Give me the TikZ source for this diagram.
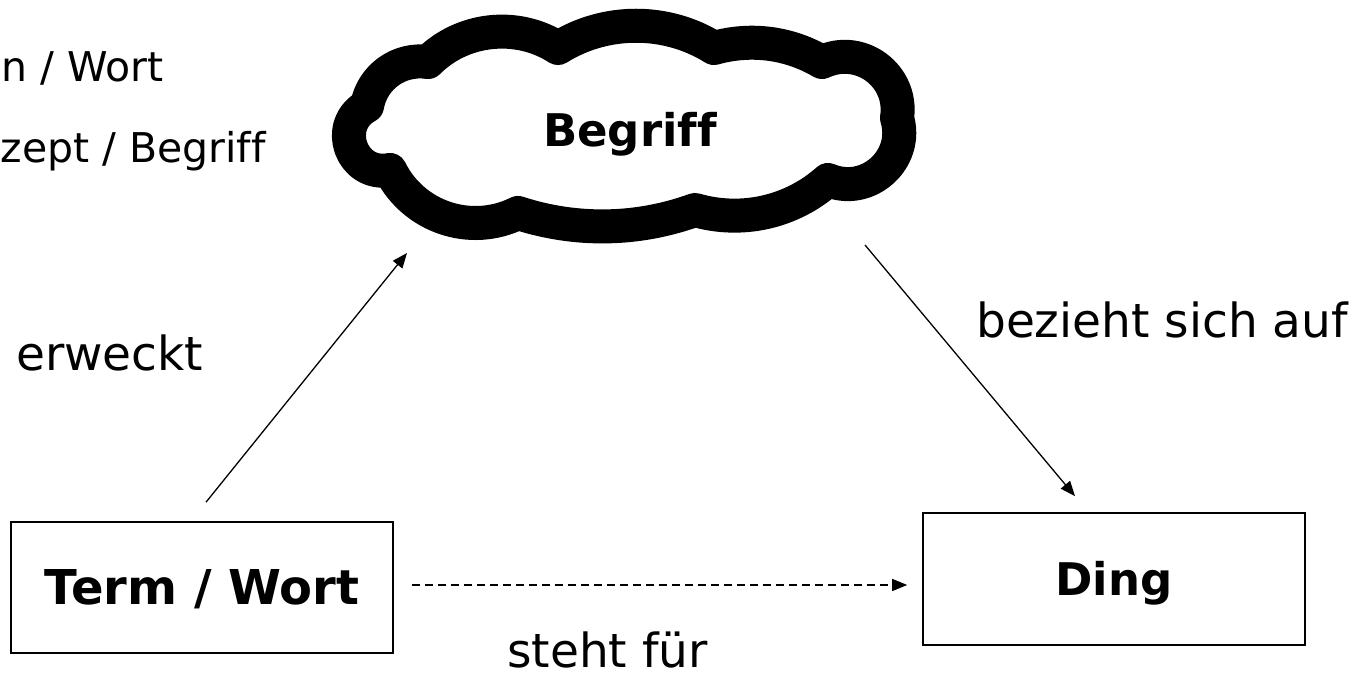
\documentclass[tikz,border=0pt]{standalone}
\usepackage{fontspec}
\setmainfont{DejaVu Sans}[Ligatures=NoCommon]
\usetikzlibrary{arrows.meta,calc}
\tikzset{
  lbl/.style={font=\fontsize{47}{56}\selectfont, inner sep=0pt},
  smalllbl/.style={font=\fontsize{41}{48}\selectfont, inner sep=0pt},
  boxnode/.style={draw, line width=1.6pt, minimum width=382pt, minimum height=131pt,
    inner sep=0pt, text height=34pt, text depth=0pt},
  conn/.style={line width=1.3pt, -{Triangle[length=15pt,width=12pt]}},
  cloudline/.style={line width=34pt, line join=round},
}
\begin{document}
\begin{tikzpicture}[x=1pt,y=1pt]
\useasboundingbox (0,0) rectangle (1363,679);
% cloud
\draw[cloudline]
  (390,509) to[bend left=81, looseness=1.48] (367,573)
  to[bend left=44, looseness=1.0] (428,617)
  to[bend left=39, looseness=0.95] (558,631)
  to[bend left=32, looseness=0.92] (714,631)
  to[bend left=23, looseness=0.9] (822,617)
  to[bend left=62, looseness=1.16] (897,561)
  to[bend left=65, looseness=1.19] (828,499)
  to[bend left=29, looseness=0.91] (695,469)
  to[bend left=19, looseness=0.88] (518,466)
  to[bend left=45, looseness=1.0] (390,509) -- cycle;
\node[lbl, font=\fontsize{45}{54}\selectfont\bfseries, anchor=base] (begriff) at (630,532) {Begriff};
% boxes
\node[boxnode, font=\fontsize{48}{56}\selectfont\bfseries] (term) at (202,91.5) {Term / Wort};
\node[boxnode, minimum height=132pt, font=\fontsize{45}{54}\selectfont\bfseries] (ding) at (1114,100) {Ding};
% connector end points near the cloud
\coordinate (cloudSW) at (407,426);
\coordinate (cloudSE) at (865,434);
% connectors
\draw[conn] ([xshift=4pt,yshift=19pt]term.north) -- (cloudSW);
\draw[conn] (cloudSE) -- ([xshift=-39pt,yshift=16pt]ding.north);
\draw[conn, dash pattern=on 8pt off 5pt] ([xshift=18pt,yshift=2.5pt]term.east) -- ([xshift=-15pt,yshift=-6pt]ding.west);
% labels
\node[lbl, anchor=base west] (erweckt) at (16,308) {erweckt};
\node[lbl, anchor=base west] (bezieht) at (976,341) {bezieht sich auf};
\node[lbl, anchor=base west] (steht) at (507,11) {steht für};
\node[smalllbl, anchor=base east] (legend1) at (164,597) {n / Wort};
\node[smalllbl, anchor=base east] (legend2) at (266,516) {zept / Begriff};
\end{tikzpicture}
\end{document}
